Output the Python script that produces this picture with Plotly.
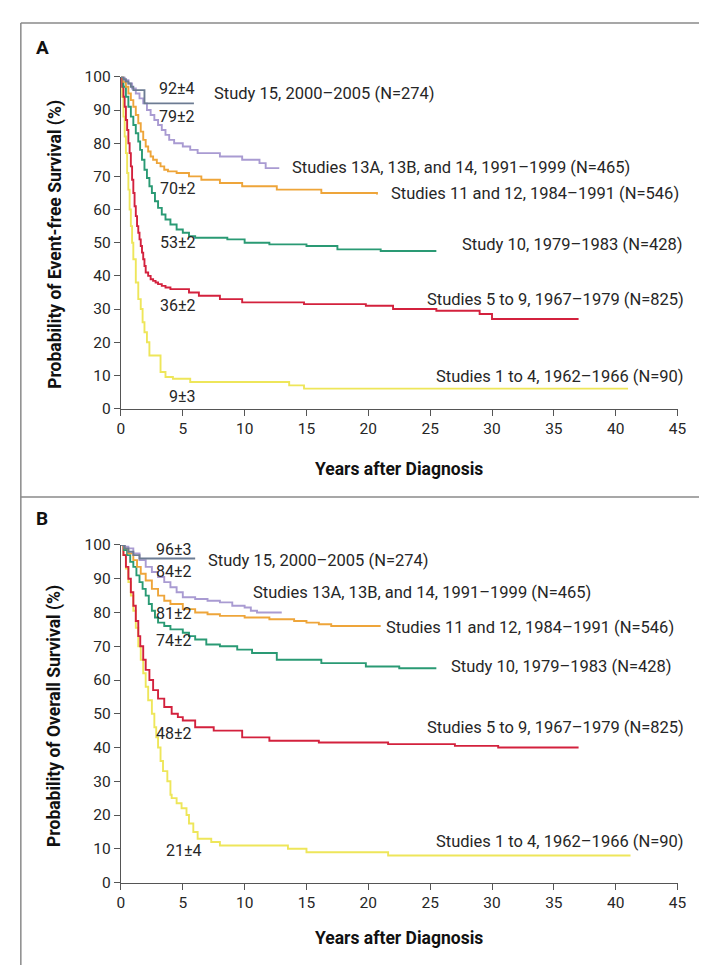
import plotly.graph_objects as go

# ---------------- data ----------------
labels = ["Study 15, 2000–2005 (N=274)",
          "Studies 13A, 13B, and 14, 1991–1999 (N=465)",
          "Studies 11 and 12, 1984–1991 (N=546)",
          "Study 10, 1979–1983 (N=428)",
          "Studies 5 to 9, 1967–1979 (N=825)",
          "Studies 1 to 4, 1962–1966 (N=90)"]
colors = ["#6d7c93", "#a99bd2", "#eea53a", "#2a9a74", "#d3213d", "#eee65a"]

# Panel A: event-free survival (%), time in years
efs15_t = [0, 0.2, 0.4, 0.6, 0.8, 1.0, 1.9, 5.9]
efs15_s = [100, 99.3, 98.6, 98, 97, 96, 92, 92]
efs13_t = [0, 0.3, 0.6, 0.9, 1.2, 1.5, 1.8, 2.1, 2.4, 2.7, 3.0, 3.3, 3.6, 3.9, 4.3, 5, 5.6,
           6.2, 8, 9.8, 11.2, 11.7, 12.8]
efs13_s = [100, 99, 98, 96.5, 95, 93.5, 92, 90, 88.5, 87, 85.5, 84, 82.5, 81, 80, 79, 78,
           77, 76, 75, 74, 72.5, 72.5]
efs11_t = [0, 0.2, 0.4, 0.6, 0.8, 1.0, 1.2, 1.4, 1.6, 1.8, 2.0, 2.2, 2.4, 2.6, 2.9, 3.2, 3.5,
           3.8, 4.5, 5.5, 6.5, 8, 9.8, 12.6, 16.2, 20.7]
efs11_s = [100, 98.5, 97, 95, 93, 91, 88.5, 86, 83.5, 81, 79, 77.5, 76, 75, 74, 73, 72,
           71.5, 71, 70, 69, 68, 67, 66, 65, 64.5]
efs10_t = [0, 0.2, 0.4, 0.6, 0.8, 1.0, 1.2, 1.4, 1.55, 1.7, 1.9, 2.1, 2.3, 2.5, 2.75, 3.0,
           3.3, 3.6, 4.0, 4.5, 5.0, 5.5, 6, 8.6, 10, 12, 15, 17.5, 21, 25.5]
efs10_s = [100, 97, 94, 91, 88, 85.5, 83, 80.5, 78, 75, 72, 69.5, 67, 65, 62.5, 60.5,
           58.5, 57, 55.5, 54, 53, 52, 51.5, 51, 50, 49.5, 49, 48, 47.5, 47.5]
efs5_t = [0, 0.1, 0.2, 0.3, 0.4, 0.5, 0.6, 0.7, 0.8, 0.9, 1.0, 1.1, 1.2, 1.3, 1.4, 1.5, 1.6,
          1.7, 1.8, 1.9, 2.0, 2.2, 2.4, 2.6, 2.8, 3.0, 3.3, 3.6, 4.0, 5.5, 6.3, 8, 9.8, 14.8,
          19.8, 22, 25.5, 29, 30, 37]
efs5_s = [100, 97, 94, 91, 87, 84, 80, 77, 73, 69, 65, 61, 58, 55, 53, 51, 49, 47, 45, 43,
          41, 40, 39, 38.5, 38, 37.5, 37, 36.5, 36, 35, 34, 33, 32, 31.5, 31, 30, 29.5, 28.5,
          27, 27]
efs1_t = [0, 0.1, 0.2, 0.3, 0.4, 0.5, 0.6, 0.7, 0.8, 0.9, 1.0, 1.2, 1.4, 1.6, 1.75, 1.9, 2.1,
          2.3, 3.2, 3.6, 4.2, 5.6, 13.6, 14.8, 41]
efs1_s = [100, 94, 88, 82, 77, 71, 66, 60, 55, 50, 45, 38, 33, 30, 26, 23, 20, 16, 11, 9.5,
          9, 8, 7, 6, 6]

# Panel B: overall survival (%)
os15_t = [0, 0.3, 0.6, 1.0, 1.5, 6.0]
os15_s = [100, 99, 98, 97, 96, 96]
os13_t = [0, 0.3, 0.6, 1, 1.5, 2, 2.5, 3, 3.5, 4, 4.5, 5, 6, 7, 8, 9, 10, 10.5, 11, 13]
os13_s = [100, 99.5, 99, 97.5, 95.5, 93.5, 92, 90.5, 89, 87.5, 86, 84.5, 84, 83.5, 83, 82,
          81.5, 80.5, 80, 80]
os11_t = [0, 0.3, 0.6, 1.0, 1.3, 1.6, 2.0, 2.5, 3, 3.5, 4, 5, 6, 7, 8, 10, 12, 14, 15, 16,
          17, 21]
os11_s = [100, 99, 97.5, 95.5, 93.5, 91.5, 89.5, 87, 85, 83.5, 82.5, 81, 80, 79.5, 79, 78.5,
          78, 77.5, 77, 76.5, 76, 76]
os10_t = [0, 0.25, 0.5, 0.75, 1, 1.25, 1.5, 1.75, 2, 2.25, 2.5, 2.75, 3, 3.5, 4, 5, 5.5, 6,
          6.9, 8, 9.4, 10.6, 12.6, 16.2, 19.8, 22.5, 25.5]
os10_s = [100, 98.5, 97, 95, 93.5, 91, 89, 87, 85, 82.5, 80.5, 78.5, 77, 76, 75, 74, 73, 72,
          70.5, 70, 69, 68, 66, 65, 64, 63.5, 63.5]
os5_t = [0, 0.2, 0.4, 0.6, 0.8, 1.0, 1.2, 1.4, 1.56, 1.8, 2.0, 2.3, 2.6, 3.0, 3.5, 4.1, 4.6,
         5, 6, 7.5, 9.8, 12, 16, 21.6, 27, 30.5, 37]
os5_s = [100, 97, 93.5, 90, 86, 82, 77.5, 73, 70, 66, 63, 60, 57, 54.5, 52, 50, 49, 48, 46,
         45, 43, 42, 41.5, 41, 40.5, 40, 40]
os1_t = [0, 0.2, 0.4, 0.6, 0.8, 1.0, 1.2, 1.4, 1.6, 1.8, 2.0, 2.2, 2.5, 2.7, 2.85, 3.0, 3.2,
         3.4, 3.75, 4.0, 4.1, 4.5, 4.9, 5.3, 5.5, 5.85, 6.2, 7.3, 8, 13.5, 15, 21.6, 41.2]
os1_s = [100, 97, 93, 89, 85, 80.5, 75.5, 70, 66, 62, 58, 54, 50, 46, 43, 40, 36, 33, 30,
         26, 25, 23.5, 22, 20, 17.5, 15, 13, 12, 11, 10, 9, 8, 8]

# five-year estimates (text, x, y)
a_est_text = ["92±4", "79±2", "70±2", "53±2", "36±2", "9±3"]
a_est_x = [4.5, 4.5, 4.6, 4.6, 4.6, 5.0]
a_est_y = [96.5, 88, 66.3, 50, 31, 3.5]
b_est_text = ["96±3", "84±2", "81±2", "74±2", "48±2", "21±4"]
b_est_x = [4.3, 4.3, 4.3, 4.3, 4.3, 5.1]
b_est_y = [98.8, 92, 79.8, 71.6, 44.3, 9.4]

# series label positions (x, y, anchor)
a_lab_x = [7.4, 13.7, 21.7, 27.4, 45, 45]
a_lab_y = [95, 72.8, 64.8, 49.5, 32.8, 9.8]
a_lab_anchor = ["left", "left", "left", "left", "right", "right"]
b_lab_x = [6.9, 10.5, 21.3, 26.5, 45, 45]
b_lab_y = [95.5, 86, 75.5, 64, 46, 12.3]
b_lab_anchor = ["left", "left", "left", "left", "right", "right"]

x_ticks = [0, 5, 10, 15, 20, 25, 30, 35, 40, 45]
y_ticks = [0, 10, 20, 30, 40, 50, 60, 70, 80, 90, 100]

FONT = "Roboto, Open Sans, sans-serif"
TXT = "#262626"

panel_a = [(efs15_t, efs15_s), (efs13_t, efs13_s), (efs11_t, efs11_s),
           (efs10_t, efs10_s), (efs5_t, efs5_s), (efs1_t, efs1_s)]
panel_b = [(os15_t, os15_s), (os13_t, os13_s), (os11_t, os11_s),
           (os10_t, os10_s), (os5_t, os5_s), (os1_t, os1_s)]

W, H = 707, 966
fig = go.Figure()

order = [5, 4, 3, 2, 1, 0]
for panel, xa, ya in [(panel_a, "x", "y"), (panel_b, "x2", "y2")]:
    for i in order:
        t, s = panel[i]
        fig.add_trace(go.Scatter(x=t, y=s, mode="lines", line_shape="hv",
                                 line=dict(color=colors[i], width=1.9),
                                 xaxis=xa, yaxis=ya, showlegend=False,
                                 cliponaxis=False, hoverinfo="skip"))


def px_x(p):
    return p / W


def px_y(p):
    return 1 - p / H


axis_common = dict(showgrid=False, zeroline=False, showline=True, linecolor="#555",
                   linewidth=1.2, ticks="outside", ticklen=6, tickcolor="#555",
                   tickfont=dict(family=FONT, size=15.5, color=TXT))

xdom = [px_x(111), px_x(678)]
fig.update_layout(
    xaxis=dict(domain=xdom, range=[0, 45], tickvals=x_ticks, anchor="y", **axis_common),
    yaxis=dict(domain=[px_y(399), px_y(61)], range=[0, 100], tickvals=y_ticks,
               anchor="x", **axis_common),
    xaxis2=dict(domain=xdom, range=[0, 45], tickvals=x_ticks, anchor="y2", **axis_common),
    yaxis2=dict(domain=[px_y(882), px_y(538)], range=[0, 100], tickvals=y_ticks,
                anchor="x2", **axis_common),
)

ann = []
for est_t, est_x, est_y, lab_x, lab_y, lab_anc, xr, yr in [
        (a_est_text, a_est_x, a_est_y, a_lab_x, a_lab_y, a_lab_anchor, "x", "y"),
        (b_est_text, b_est_x, b_est_y, b_lab_x, b_lab_y, b_lab_anchor, "x2", "y2")]:
    for k in range(6):
        ann.append(dict(text=est_t[k], x=est_x[k], y=est_y[k], xref=xr, yref=yr,
                        showarrow=False, xanchor="center", yanchor="middle",
                        font=dict(family=FONT, size=16, color=TXT)))
        ann.append(dict(text=labels[k], x=lab_x[k], y=lab_y[k], xref=xr, yref=yr,
                        showarrow=False, xanchor=lab_anc[k], yanchor="middle",
                        xshift=8 if lab_anc[k] == "right" else 0,
                        font=dict(family=FONT, size=16.5, color=TXT)))

BOLD = dict(family=FONT, size=17.5, color="#111")
ann.append(dict(text="<b>A</b>", x=px_x(22), y=px_y(31), xref="paper", yref="paper",
                showarrow=False, xanchor="left", yanchor="middle",
                font=dict(family=FONT, size=19, color="#111")))
ann.append(dict(text="<b>B</b>", x=px_x(22), y=px_y(511), xref="paper", yref="paper",
                showarrow=False, xanchor="left", yanchor="middle",
                font=dict(family=FONT, size=19, color="#111")))
ann.append(dict(text="<b>Probability of Event-free Survival (%)</b>", x=px_x(44),
                y=px_y(232), xref="paper", yref="paper", showarrow=False, textangle=-90,
                xanchor="center", yanchor="middle", font=BOLD))
ann.append(dict(text="<b>Probability of Overall Survival (%)</b>", x=px_x(44),
                y=px_y(712), xref="paper", yref="paper", showarrow=False, textangle=-90,
                xanchor="center", yanchor="middle", font=BOLD))
ann.append(dict(text="<b>Years after Diagnosis</b>", x=px_x(394), y=px_y(461),
                xref="paper", yref="paper", showarrow=False, xanchor="center",
                yanchor="middle", font=BOLD))
ann.append(dict(text="<b>Years after Diagnosis</b>", x=px_x(394), y=px_y(938),
                xref="paper", yref="paper", showarrow=False, xanchor="center",
                yanchor="middle", font=BOLD))

shapes = [
    dict(type="line", xref="paper", yref="paper", x0=px_x(9), x1=px_x(9), y0=0, y1=px_y(6),
         line=dict(color="#8a8a8a", width=1.5)),
    dict(type="line", xref="paper", yref="paper", x0=px_x(9), x1=1, y0=px_y(6), y1=px_y(6),
         line=dict(color="#8a8a8a", width=1.5)),
    dict(type="line", xref="paper", yref="paper", x0=px_x(9), x1=1, y0=px_y(489), y1=px_y(489),
         line=dict(color="#8a8a8a", width=1.5)),
]

fig.update_layout(width=W, height=H, margin=dict(l=0, r=0, t=0, b=0),
                  paper_bgcolor="white", plot_bgcolor="white",
                  annotations=ann, shapes=shapes,
                  font=dict(family=FONT, color=TXT))

fig.write_html("out.html")
